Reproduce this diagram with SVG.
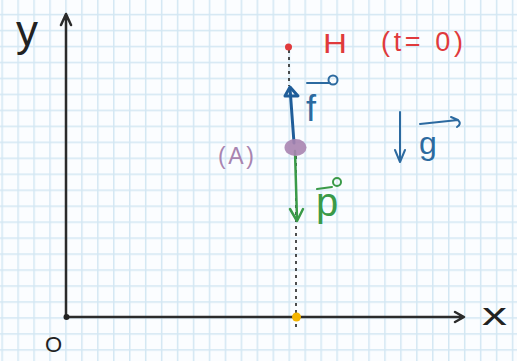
<svg xmlns="http://www.w3.org/2000/svg" width="517" height="361" viewBox="0 0 517 361">
<style>
.hand{font-family:"Liberation Sans","DejaVu Sans",sans-serif;}
.red{fill:#e03a3c;}
.blue{fill:#2c6aa0;}
.green{fill:#3a9a48;}
.purple{fill:#a884b0;}
.ink{fill:#222;}
.axis{stroke:#2b2b2b;stroke-width:2.5;fill:none;stroke-linecap:round;stroke-linejoin:round;}
.dash{stroke:#222;stroke-width:1.6;stroke-dasharray:3 4;fill:none;}
.vb{stroke:#1f5d99;stroke-width:3;fill:none;stroke-linecap:round;stroke-linejoin:round;}
.vb2{stroke:#2c6aa0;stroke-width:2;fill:none;stroke-linecap:round;stroke-linejoin:round;}
.vg{stroke:#3a9a48;stroke-width:2.5;fill:none;stroke-linecap:round;stroke-linejoin:round;}
</style>
<defs>
<pattern id="grid" patternUnits="userSpaceOnUse" x="1.4" y="13.8" width="15.95" height="15.97">
<path d="M0.75 0V15.97M0 0.75H15.95" stroke="#d3e7f3" stroke-width="1.5" fill="none"/>
</pattern>
</defs>
<rect width="517" height="361" fill="#fbfdff"/>
<rect width="517" height="361" fill="url(#grid)"/>

<g id="connectors">
<path class="axis" d="M66 317V15M61 25L66 14L71 25"/>
<path class="axis" d="M66 317H463M455 312L464 317L455 322"/>
<path class="dash" d="M289 50V86"/>
<path class="dash" d="M296 156V330"/>
<path class="vb" d="M294 143L290 88"/>
<path class="vb" d="M285 96L290 87L298 96Z"/>
<path class="vg" d="M295 151L297 219"/>
<path class="vg" d="M290 209L297 221L303 209"/>
<path class="vb2" d="M400 112V161M395 150L400 162L405 150"/>
<path class="vb2" d="M307 83H330"/>
<circle cx="333" cy="80" r="4.5" class="vb2"/>
<path class="vg" d="M317 189L332 187" style="stroke-width:2"/>
<circle cx="337" cy="182" r="4" class="vg" style="stroke-width:2"/>
<path class="vb2" d="M420 124L458 120L451 117M458 120Q462 124 457 127"/>
</g>

<g id="node-H">
<circle cx="288.5" cy="47" r="3.5" fill="#e03a3c"/>
<text class="hand red" x="323" y="53" font-size="28" textLength="24" lengthAdjust="spacingAndGlyphs">H</text>
<text class="hand red" x="381" y="51" font-size="27" textLength="82" lengthAdjust="spacing">(t= 0)</text>
</g>

<g id="node-A">
<ellipse cx="295.5" cy="147.5" rx="11" ry="8.5" fill="#a884b0" opacity="0.9"/>
<text class="hand purple" x="218" y="164" font-size="23" textLength="36" lengthAdjust="spacing">(A)</text>
</g>

<g id="node-ground">
<circle cx="296.5" cy="317" r="4.5" fill="#f4b400"/>
</g>

<g id="node-origin">
<circle cx="66.5" cy="317" r="3" fill="#222"/>
<text class="hand ink" x="45" y="352" font-size="22">O</text>
</g>

<g id="labels">
<text class="hand blue" x="306" y="121" font-size="36">f</text>
<text class="hand green" x="316" y="216" font-size="40">p</text>
<text class="hand blue" x="419" y="154" font-size="32">g</text>
<text class="hand ink" x="16" y="46" font-size="44">y</text>
<text class="hand ink" x="482" y="325" font-size="32" textLength="25" lengthAdjust="spacingAndGlyphs">x</text>
</g>
</svg>
